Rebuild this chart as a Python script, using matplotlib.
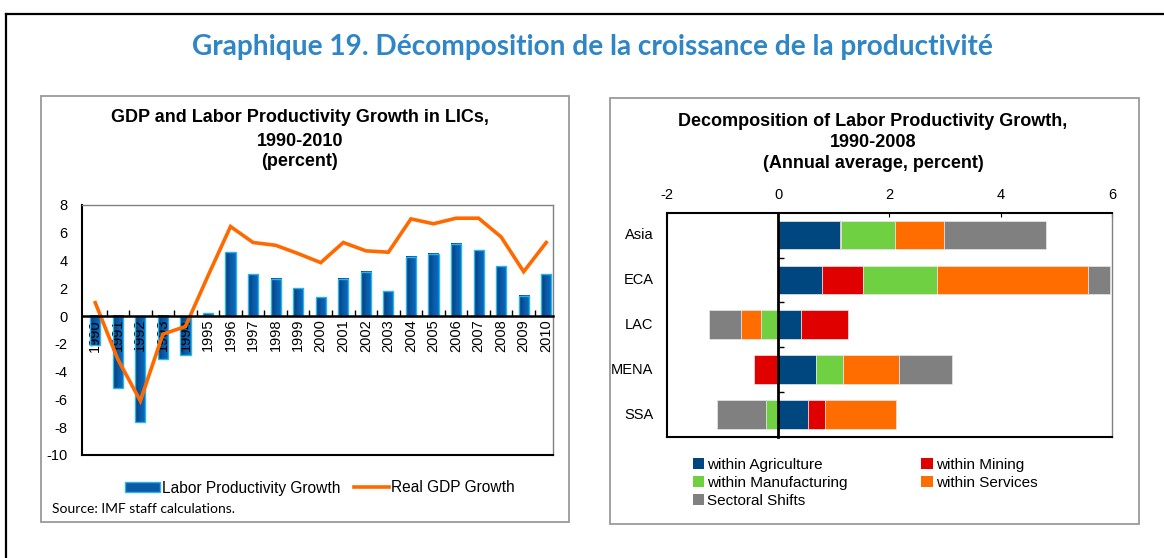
import matplotlib
matplotlib.use('Agg')
import matplotlib.pyplot as plt
import numpy as np
from matplotlib.patches import Rectangle, Patch
from matplotlib.lines import Line2D
from matplotlib.colors import LinearSegmentedColormap
import matplotlib.transforms as mtransforms

# ---------------- data ----------------
years = [str(y) for y in range(1990, 2011)]
labor_prod = [-2.1, -5.2, -7.6, -3.1, -2.8, 0.2, 4.6, 3.0, 2.7, 2.0, 1.35,
              2.7, 3.2, 1.8, 4.25, 4.5, 5.2, 4.75, 3.6, 1.45, 3.0]
real_gdp = [0.97, -3.1, -6.1, -1.3, -0.75, 2.9, 6.45, 5.3, 5.1, 4.5, 3.85,
            5.3, 4.7, 4.6, 7.0, 6.65, 7.05, 7.05, 5.7, 3.2, 5.3]

regions = ['Asia', 'ECA', 'LAC', 'MENA', 'SSA']
agri = [1.12, 0.79, 0.41, 0.69, 0.54]
mining = [0.02, 0.73, 0.84, -0.44, 0.30]
manuf = [0.96, 1.33, -0.30, 0.48, -0.22]
services = [0.89, 2.71, -0.37, 1.00, 1.28]
shifts = [1.82, 0.40, -0.57, 0.95, -0.87]

left_yticks = list(range(-10, 9, 2))
right_xticks = [-2, 0, 2, 4, 6]

# ---------------- styles ----------------
W, H = 1164, 558
def fx(x): return x / W
def fy(y): return 1 - y / H

BAR_EDGE = '#2ab4ee'
ORANGE = '#ff6a00'
C_AGRI, C_MIN, C_MAN, C_SER, C_SHI = '#00467f', '#e00000', '#6fd142', '#ff6d00', '#808080'
ARIAL = ['Liberation Sans', 'DejaVu Sans']
CAL = ['Lato', 'DejaVu Sans']

plt.rcParams['font.family'] = ARIAL
plt.rcParams['axes.unicode_minus'] = False

fig = plt.figure(figsize=(W / 100, H / 100), dpi=100)

# outer frame
fig.add_artist(Line2D([fx(6), 1.0], [fy(14), fy(14)], color='black', lw=1.6, transform=fig.transFigure))
fig.add_artist(Line2D([fx(6), fx(6)], [fy(14), 0.0], color='black', lw=1.6, transform=fig.transFigure))

# panels
for (x0, y0, x1, y1) in [(41, 95.7, 569, 521.7), (610, 97.7, 1139, 524)]:
    fig.add_artist(Rectangle((fx(x0), fy(y1)), (x1 - x0) / W, (y1 - y0) / H,
                             transform=fig.transFigure, fill=False,
                             edgecolor='#9a9a9a', lw=1.3))

# main title
fig.text(fx(592), fy(47), 'Graphique 19. Décomposition de la croissance de la productivité',
         ha='center', va='center', color='#2f86c6', fontsize=20.2, fontweight='bold', family=CAL)

# ---------------- left chart ----------------
ax1 = fig.add_axes([fx(81.7), fy(455), (553 - 81.7) / W, (455 - 205) / H])
x = np.arange(len(years))
bars = ax1.bar(x, labor_prod, width=0.45, facecolor='none', edgecolor=BAR_EDGE, lw=1.0, zorder=1.6)
cmap = LinearSegmentedColormap.from_list('g', ['#073a74', '#0a5aa8', '#0a6cc0'])
grad = np.linspace(0, 1, 64).reshape(1, -1)
for b in bars:
    bx0, by0 = b.get_x(), b.get_y()
    bw, bh = b.get_width(), b.get_height()
    ax1.imshow(grad, extent=[bx0, bx0 + bw, by0, by0 + bh], cmap=cmap, aspect='auto',
               zorder=1.5, interpolation='bilinear')
ax1.plot(x, real_gdp, color=ORANGE, lw=2.6, zorder=4, solid_joinstyle='miter')

ax1.set_xlim(-0.6, 20.3)
ax1.set_ylim(-10, 8)
ax1.set_yticks(left_yticks)
ax1.tick_params(axis='y', length=0, pad=10, labelsize=10.5)
ax1.set_xticks(x)
ax1.set_xticklabels(years)
ax1.tick_params(axis='x', which='major', length=0, pad=2, labelrotation=90, labelsize=10.5)
ax1.set_xticks(x[:-1] + 0.5, minor=True)
ax1.tick_params(axis='x', which='minor', direction='in', length=4, width=1, color='black')
ax1.spines['bottom'].set_position(('data', 0))
ax1.spines['bottom'].set_linewidth(1.8)
ax1.spines['bottom'].set_zorder(5)
ax1.spines['left'].set_linewidth(1.5)
for s in ['top', 'right']:
    ax1.spines[s].set_color('#808080')
    ax1.spines[s].set_linewidth(1.0)
ax1.axhline(-10, color='black', lw=1.5, clip_on=False, zorder=5)

for txt, yy in [('GDP and Labor Productivity Growth in LICs,', 118), ('1990-2010', 141), ('(percent)', 162)]:
    fig.text(fx(300), fy(yy), txt, ha='center', va='center', fontsize=13, fontweight='bold')

h1 = [Patch(facecolor='#0a5aa5', edgecolor=BAR_EDGE, lw=1.0),
      Line2D([], [], color=ORANGE, lw=2.6)]
fig.legend(h1, ['Labor Productivity Growth', 'Real GDP Growth'], loc='center',
           bbox_to_anchor=(fx(320), fy(488)), ncol=2, frameon=False, fontsize=11.2,
           handlelength=2.2, handleheight=0.55, handletextpad=0.15, columnspacing=0.9,
           borderpad=0, borderaxespad=0)
fig.text(fx(52), fy(509), 'Source: IMF staff calculations.', fontsize=10, va='center', family=CAL)

# ---------------- right chart ----------------
ax2 = fig.add_axes([fx(666.7), fy(437), (1112 - 666.7) / W, (437 - 212.7) / H])
y = np.arange(len(regions))
series = [(agri, C_AGRI, 'within Agriculture'), (mining, C_MIN, 'within Mining'),
          (manuf, C_MAN, 'within Manufacturing'), (services, C_SER, 'within Services'),
          (shifts, C_SHI, 'Sectoral Shifts')]
pos = np.zeros(len(regions))
neg = np.zeros(len(regions))
handles = {}
for vals, col, lab in series:
    v = np.array(vals, dtype=float)
    left = np.where(v >= 0, pos, neg)
    ax2.barh(y, v, left=left, height=0.64, color=col, edgecolor='#e8e8e8', lw=0.5, zorder=2)
    pos = pos + np.where(v >= 0, v, 0)
    neg = neg + np.where(v < 0, v, 0)
    handles[lab] = Patch(facecolor=col, edgecolor='none')

ax2.set_xlim(-2, 6)
ax2.set_ylim(4.5, -0.5)
ax2.xaxis.tick_top()
ax2.set_xticks(right_xticks)
ax2.tick_params(axis='x', direction='in', length=3, pad=8, labelsize=10.5)
ax2.set_yticks(y)
ax2.set_yticklabels([])
ax2.tick_params(axis='y', which='major', length=0)
ax2.set_yticks(y[:-1] + 0.5, minor=True)
ax2.tick_params(axis='y', which='minor', direction='in', length=4, width=1)
ax2.spines['left'].set_position(('data', 0))
ax2.spines['left'].set_linewidth(2.0)
ax2.spines['left'].set_zorder(5)
ax2.spines['top'].set_linewidth(1.5)
ax2.spines['bottom'].set_linewidth(1.5)
ax2.spines['right'].set_color('#808080')
ax2.spines['right'].set_linewidth(1.0)
ax2.axvline(-2, color='black', lw=1.5, clip_on=False, zorder=5)
tr = mtransforms.blended_transform_factory(ax2.transAxes, ax2.transData)
for yi, r in zip(y, regions):
    ax2.text(-0.03, yi, r, transform=tr, ha='right', va='center', fontsize=10.5)

for txt, yy in [('Decomposition of Labor Productivity Growth,', 121), ('1990-2008', 142),
                ('(Annual average, percent)', 163)]:
    fig.text(fx(873), fy(yy), txt, ha='center', va='center', fontsize=13, fontweight='bold')

order = ['within Agriculture', 'within Manufacturing', 'Sectoral Shifts', 'within Mining', 'within Services']
fig.legend([handles[k] for k in order], order, loc='center', bbox_to_anchor=(fx(865), fy(483)),
           ncol=2, frameon=False, fontsize=11, handlelength=0.75, handleheight=0.75,
           handletextpad=0.2, columnspacing=4.8, labelspacing=0.25, borderpad=0, borderaxespad=0)

fig.savefig('out.png', dpi=100)
